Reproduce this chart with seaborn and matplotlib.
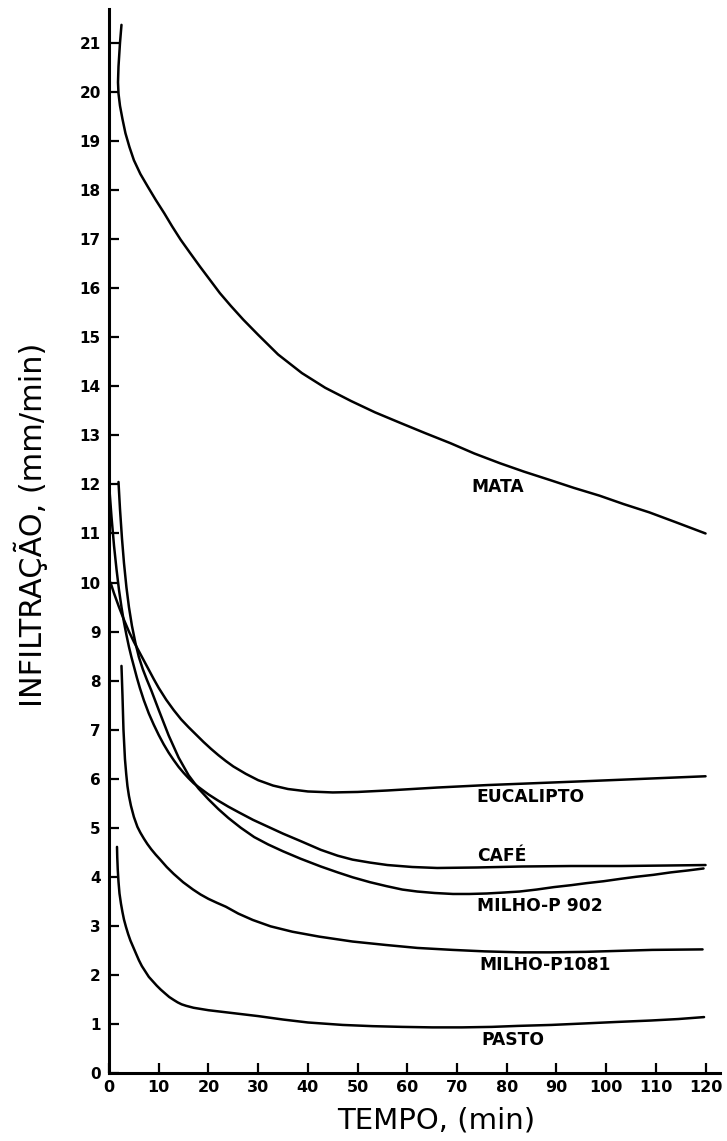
import numpy as np
import pandas as pd
import matplotlib
matplotlib.use("Agg")
import matplotlib.pyplot as plt
import seaborn as sns

sns.set_theme(style="ticks")
plt.rcParams["font.family"] = ["DejaVu Sans"]
plt.rcParams["text.color"] = "black"
plt.rcParams["axes.labelcolor"] = "black"
plt.rcParams["xtick.color"] = "black"
plt.rcParams["ytick.color"] = "black"

# curves: tempo (min) vs infiltracao (mm/min)
MATA_X = [2.5, 2.2, 1.9, 1.8, 1.9, 2.2, 2.7, 3.3, 4.1, 5.0, 6.3, 7.8, 9.4, 11.1, 12.7,
          14.4, 16.3, 18.3, 20.3, 22.3, 24.5, 27.0, 30.0, 34.0, 38.8, 43.5, 48.7,
          53.5, 58.7, 63.5, 68.7, 73.5, 78.7, 83.5, 88.7, 93.5, 98.7, 103.5, 108.7,
          114.0, 120.0]
MATA_Y = [21.37, 21.0, 20.52, 20.2, 19.97, 19.72, 19.45, 19.16, 18.88, 18.61, 18.33,
          18.07, 17.8, 17.53, 17.26, 16.99, 16.72, 16.44, 16.17, 15.9, 15.64, 15.36,
          15.05, 14.65, 14.27, 13.97, 13.7, 13.47, 13.25, 13.05, 12.84, 12.63, 12.43,
          12.26, 12.09, 11.93, 11.77, 11.6, 11.43, 11.23, 11.0]

EUCALIPTO_X = [0.3, 1.0, 2.0, 3.0, 4.0, 5.0, 6.0, 7.0, 8.0, 9.0, 10.0, 11.5, 13.0,
               14.5, 16.0, 17.5, 19.0, 20.5, 22.0, 23.5, 25.0, 27.5, 30.0, 33.0,
               36.0, 40.0, 45.0, 50.0, 56.0, 66.0, 76.0, 86.0, 96.0, 108.0, 120.0]
EUCALIPTO_Y = [10.0, 9.78, 9.5, 9.24, 9.0, 8.79, 8.6, 8.41, 8.22, 8.03, 7.85, 7.61,
               7.4, 7.21, 7.05, 6.9, 6.75, 6.61, 6.48, 6.36, 6.25, 6.1, 5.97, 5.86,
               5.79, 5.74, 5.72, 5.73, 5.76, 5.82, 5.87, 5.91, 5.95, 6.0, 6.05]

CAFE_X = [0.0, 0.5, 1.0, 1.5, 2.0, 2.5, 3.0, 3.5, 4.0, 4.5, 5.0, 5.6, 6.2, 7.0, 8.0,
          9.0, 10.0, 11.0, 12.0, 13.0, 14.0, 15.0, 16.0, 17.0, 18.0, 20.0, 22.0,
          24.0, 26.0, 29.0, 32.0, 35.0, 38.5, 42.6, 46.0, 49.0, 52.5, 56.0, 61.0,
          66.0, 74.0, 83.0, 93.0, 103.0, 112.0, 120.0]
CAFE_Y = [12.0, 11.33, 10.75, 10.27, 9.85, 9.5, 9.19, 8.93, 8.69, 8.48, 8.29, 8.06,
          7.85, 7.6, 7.33, 7.1, 6.89, 6.7, 6.53, 6.38, 6.24, 6.12, 6.01, 5.91, 5.83,
          5.68, 5.55, 5.43, 5.32, 5.16, 5.02, 4.88, 4.73, 4.55, 4.43, 4.35, 4.29,
          4.24, 4.2, 4.18, 4.19, 4.21, 4.22, 4.22, 4.23, 4.24]

P902_X = [1.9, 2.2, 2.6, 3.0, 3.5, 4.0, 4.6, 5.3, 6.0, 6.8, 7.6, 8.5, 10.0, 12.0,
          14.0, 16.0, 18.0, 20.0, 22.0, 24.0, 26.5, 29.2, 32.0, 35.0, 38.5, 42.6,
          46.0, 49.0, 52.5, 55.8, 59.0, 62.0, 65.5, 69.2, 72.5, 76.0, 79.5, 82.6,
          86.0, 89.5, 93.0, 96.0, 99.5, 103.0, 106.0, 109.5, 113.0, 116.5, 119.6]
P902_Y = [12.05, 11.5, 10.9, 10.4, 9.9, 9.5, 9.12, 8.77, 8.48, 8.23, 8.02, 7.8, 7.4,
          6.88, 6.43, 6.07, 5.8, 5.58, 5.38, 5.2, 5.0, 4.81, 4.66, 4.52, 4.37, 4.21,
          4.09, 3.99, 3.89, 3.81, 3.74, 3.7, 3.67, 3.65, 3.65, 3.66, 3.68, 3.7, 3.74,
          3.79, 3.83, 3.87, 3.91, 3.96, 4.0, 4.04, 4.09, 4.13, 4.17]

P1081_X = [2.5, 2.6, 2.7, 2.8, 2.9, 3.05, 3.2, 3.45, 3.7, 4.0, 4.4, 5.0, 5.7, 6.3,
           7.0, 7.7, 8.5, 9.4, 10.3, 11.6, 13.0, 14.9, 16.9, 18.4, 20.0, 21.7, 23.5,
           26.0, 28.9, 32.5, 36.9, 42.3, 49.0, 55.7, 62.0, 69.1, 75.5, 82.5, 89.0,
           95.9, 102.5, 109.3, 119.4]
P1081_Y = [8.3, 8.0, 7.7, 7.35, 7.0, 6.7, 6.4, 6.1, 5.85, 5.65, 5.45, 5.22, 5.02,
           4.9, 4.78, 4.67, 4.56, 4.45, 4.35, 4.2, 4.06, 3.89, 3.74, 3.64, 3.55,
           3.47, 3.39, 3.25, 3.12, 2.99, 2.88, 2.78, 2.68, 2.61, 2.55, 2.51, 2.48,
           2.46, 2.46, 2.47, 2.49, 2.51, 2.52]

PASTO_X = [1.6, 1.65, 1.75, 1.9, 2.1, 2.4, 2.7, 3.0, 3.4, 3.85, 4.3, 4.85, 5.4, 6.0,
           6.6, 7.3, 8.0, 8.8, 9.6, 10.4, 11.3, 12.1, 13.0, 13.8, 14.6, 15.5, 17.0,
           20.0, 25.0, 30.0, 35.0, 40.0, 47.0, 53.0, 59.0, 65.0, 71.0, 77.0, 82.2,
           89.0, 95.6, 102.0, 109.0, 114.5, 119.7]
PASTO_Y = [4.61, 4.4, 4.15, 3.9, 3.66, 3.45, 3.28, 3.13, 2.98, 2.83, 2.7, 2.57, 2.44,
           2.3, 2.18, 2.07, 1.96, 1.87, 1.78, 1.7, 1.62, 1.55, 1.49, 1.44, 1.4, 1.37,
           1.33, 1.28, 1.22, 1.16, 1.09, 1.03, 0.98, 0.955, 0.94, 0.93, 0.93, 0.94,
           0.96, 0.98, 1.01, 1.04, 1.07, 1.1, 1.14]

# name, x, y, label position (x, y)
CURVES = [
    ("MATA", MATA_X, MATA_Y, (72.8, 11.95)),
    ("EUCALIPTO", EUCALIPTO_X, EUCALIPTO_Y, (73.8, 5.63)),
    ("CAFÉ", CAFE_X, CAFE_Y, (74.0, 4.42)),
    ("MILHO-P 902", P902_X, P902_Y, (74.0, 3.4)),
    ("MILHO-P1081", P1081_X, P1081_Y, (74.4, 2.2)),
    ("PASTO", PASTO_X, PASTO_Y, (75.0, 0.68)),
]

X_TICKS = list(range(0, 121, 10))
Y_TICKS = list(range(0, 22))


def build_table(curves):
    rows = []
    for name, xs, ys, _ in curves:
        for i, (x, y) in enumerate(zip(xs, ys)):
            rows.append({"curva": name, "ordem": i, "tempo": x, "infiltracao": y})
    return pd.DataFrame(rows)


def main():
    df = build_table(CURVES)

    fig = plt.figure(figsize=(7.27, 11.41), dpi=100)
    ax = fig.add_axes([0.150, 0.0596, 0.841, 0.9328])

    for name, _, _, _ in CURVES:
        sub = df[df["curva"] == name].sort_values("ordem")
        sns.lineplot(data=sub, x="tempo", y="infiltracao", sort=False,
                     estimator=None, color="black", linewidth=1.8, ax=ax)

    for name, _, _, (lx, ly) in CURVES:
        ax.text(lx, ly, name, ha="left", va="center", fontsize=12.3,
                fontweight="bold", color="black")

    ax.set_xlim(0, 123)
    ax.set_ylim(0, 21.7)
    ax.set_xticks(X_TICKS)
    ax.set_yticks(Y_TICKS)
    ax.set_xticklabels([str(t) for t in X_TICKS], fontsize=11.5, fontweight="bold")
    ax.set_yticklabels([str(t) for t in Y_TICKS], fontsize=11, fontweight="bold")
    ax.tick_params(direction="in", length=7, width=1.6, color="black", pad=6)
    ax.tick_params(axis="x", pad=5)
    ax.set_xlabel("")
    ax.set_ylabel("")

    sns.despine(ax=ax)
    for side in ["left", "bottom"]:
        ax.spines[side].set_linewidth(2.2)
        ax.spines[side].set_color("black")

    fig.text(31 / 727, 1 - 525 / 1141, "INFILTRAÇÃO, (mm/min)", rotation=90,
             ha="center", va="center", fontsize=21.8)
    fig.text(436 / 727, 1 - 1121 / 1141, "TEMPO, (min)", ha="center", va="center",
             fontsize=21)

    fig.savefig("out.png", dpi=100, facecolor="white")


if __name__ == "__main__":
    main()
